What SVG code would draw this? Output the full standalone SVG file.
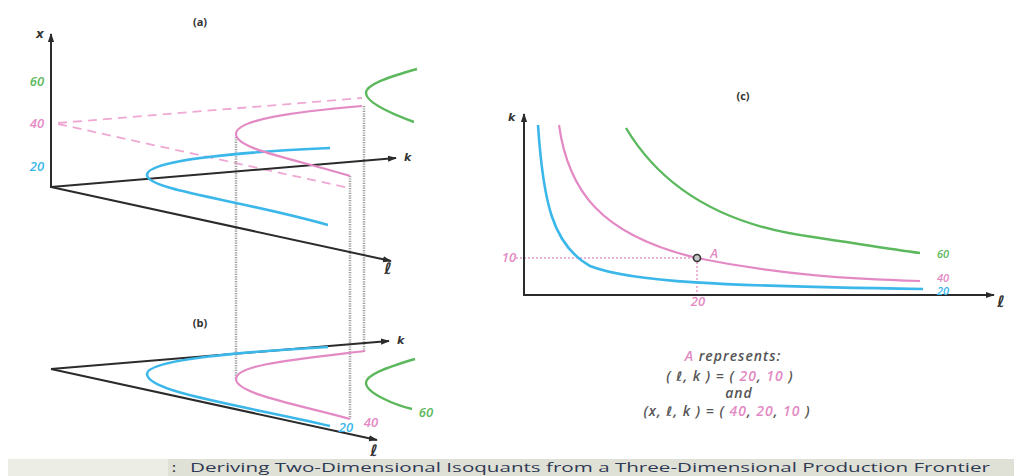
<svg xmlns="http://www.w3.org/2000/svg" width="1014" height="476" viewBox="0 0 1014 476">
<style>
.ax{stroke:#2b2b2b;stroke-width:2;fill:none}
.blue{stroke:#3cb7ea;stroke-width:2.6;fill:none}
.pink{stroke:#e38ac4;stroke-width:2.2;fill:none}
.green{stroke:#5cb85c;stroke-width:2.4;fill:none}
.dash{stroke:#efa8d3;stroke-width:1.8;fill:none;stroke-dasharray:9 6}
.dot{stroke:#a0a0a0;stroke-width:2.6;fill:none;stroke-dasharray:1.2 1.2}
.pdot{stroke:#e99ccb;stroke-width:1.5;fill:none;stroke-dasharray:2 2}
.t{font-family:"Open Sans","Liberation Sans",sans-serif;font-style:italic;font-weight:600;font-size:13px}
.ts{font-size:11px}
.tb{fill:#3cb7ea}.tp{fill:#e38ac4}.tg{fill:#5cb85c}.tk{fill:#444}
.ttl{font-family:"Open Sans","Liberation Sans",sans-serif;font-weight:700;font-size:11px;fill:#333}
.axl{font-family:"DejaVu Sans",sans-serif;font-style:italic;font-weight:700;fill:#333}
.cap{font-family:"Open Sans","Liberation Sans",sans-serif;font-style:italic;font-weight:600;font-size:14px;fill:#555;letter-spacing:1px}
.ell{font-family:"DejaVu Sans",sans-serif;font-size:13px}
</style>
<defs>
<marker id="ah2" viewBox="0 0 10 10" refX="9" refY="5" markerWidth="9" markerHeight="9" orient="auto" markerUnits="userSpaceOnUse">
<path d="M0,1.5 L10,5 L0,8.5 z" fill="#2b2b2b"/>
</marker>
</defs>
<rect width="1014" height="476" fill="#ffffff"/>

<g id="panel-a">
<text class="ttl" x="200" y="26" text-anchor="middle">(a)</text>
<g id="connectors-a">
<line class="dash" x1="58" y1="123" x2="362" y2="98"/>
<line class="dash" x1="58" y1="124" x2="349" y2="188"/>
<line class="dot" x1="236" y1="137" x2="236" y2="380"/>
<line class="dot" x1="350" y1="176" x2="350" y2="419"/>
<line class="dot" x1="364" y1="106" x2="364" y2="352"/>
<line class="ax" x1="51" y1="188" x2="51" y2="34" marker-end="url(#ah2)"/>
<line class="ax" x1="51" y1="187" x2="396" y2="158" marker-end="url(#ah2)"/>
<line class="ax" x1="51" y1="187" x2="391" y2="261" marker-end="url(#ah2)"/>
</g>
<path class="blue" d="M330,148 C240,152 147,160 147,175 C147,190 240,200 328,225"/>
<path class="pink" d="M362,106 C290,112 236,120 236,134 C236,150 300,160 350,176"/>
<path class="green" d="M417,69 C385,78 366,85 366,93 C366,103 395,115 414,122"/>
<text class="axl" x="36" y="38" font-size="12">x</text>
<text class="t tg" x="37" y="86" text-anchor="middle">60</text>
<text class="t tp" x="37" y="128" text-anchor="middle">40</text>
<text class="t tb" x="37" y="171" text-anchor="middle">20</text>
<text class="axl" x="404" y="161" font-size="11">k</text>
<text class="axl" x="388" y="274" font-size="16" text-anchor="middle">ℓ</text>
</g>

<g id="panel-b">
<text class="ttl" x="200" y="327" text-anchor="middle">(b)</text>
<line class="ax" x1="51" y1="369" x2="389" y2="341" marker-end="url(#ah2)"/>
<line class="ax" x1="51" y1="369" x2="377" y2="440" marker-end="url(#ah2)"/>
<path class="blue" d="M328,347 C240,352 147,360 147,374 C147,392 240,405 330,426"/>
<path class="pink" d="M365,351 C290,360 236,365 236,379 C236,394 300,405 350,419"/>
<path class="green" d="M415,359 C385,368 366,375 366,383 C366,393 395,405 412,409"/>
<text class="axl" x="397" y="344" font-size="11">k</text>
<text class="axl" x="374" y="456" font-size="16" text-anchor="middle">ℓ</text>
<text class="t tb" x="346" y="432" text-anchor="middle">20</text>
<text class="t tp" x="371" y="427" text-anchor="middle">40</text>
<text class="t tg" x="426" y="417" text-anchor="middle">60</text>
</g>

<g id="panel-c">
<text class="ttl" x="743" y="100" text-anchor="middle">(c)</text>
<line class="pdot" x1="516" y1="258" x2="697" y2="258"/>
<line class="pdot" x1="697" y1="258" x2="697" y2="296"/>
<line class="ax" x1="524" y1="296" x2="524" y2="114" marker-end="url(#ah2)"/>
<line class="ax" x1="523" y1="295" x2="994" y2="295" marker-end="url(#ah2)"/>
<path class="green" d="M626,128 C660,185 720,225 813,237 C860,244 890,249 920,253"/>
<path class="pink" d="M559,125 C568,190 600,235 697,258 C780,275 850,279 920,281"/>
<path class="blue" d="M538,125 C543,200 552,245 590,266 C630,282 720,286 923,289"/>
<circle cx="697" cy="258" r="3.5" fill="#c8c8c8" stroke="#333" stroke-width="1.6"/>
<text class="axl" x="508" y="121" font-size="11">k</text>
<text class="axl" x="1001" y="307" font-size="16" text-anchor="middle">ℓ</text>
<text class="t tp" x="714" y="258" text-anchor="middle">A</text>
<text class="t tp" x="509" y="262" text-anchor="middle">10</text>
<text class="t tp" x="698" y="306" text-anchor="middle">20</text>
<text class="t ts tg" x="943" y="258" text-anchor="middle">60</text>
<text class="t ts tp" x="943" y="282" text-anchor="middle">40</text>
<text class="t ts tb" x="943" y="295" text-anchor="middle">20</text>
</g>

<g id="caption">
<text class="cap" x="733" y="361" text-anchor="middle"><tspan class="tp">A</tspan> represents:</text>
<text class="cap" x="730" y="381" text-anchor="middle">( <tspan class="ell">ℓ</tspan>, k ) = ( <tspan class="tp">20</tspan>, <tspan class="tp">10</tspan> )</text>
<text class="cap" x="739" y="398" text-anchor="middle" font-size="12">and</text>
<text class="cap" x="727" y="416" text-anchor="middle">(x, <tspan class="ell">ℓ</tspan>, k ) = ( <tspan class="tp">40</tspan>, <tspan class="tp">20</tspan>, <tspan class="tp">10</tspan> )</text>
</g>

<g id="title-bar">
<rect x="8" y="459" width="1006" height="17" fill="#eceee6"/>
<rect x="168" y="459" width="846" height="17" fill="#e0e1d6"/>
<text x="172" y="472" font-family="Liberation Sans, sans-serif" font-weight="700" font-size="12" fill="#333">:</text>
<text x="190" y="472" font-family="Open Sans, Liberation Sans, sans-serif" font-weight="400" font-size="13" fill="#2f3a55" textLength="800" lengthAdjust="spacingAndGlyphs">Deriving Two-Dimensional Isoquants from a Three-Dimensional Production Frontier</text>
</g>
</svg>
